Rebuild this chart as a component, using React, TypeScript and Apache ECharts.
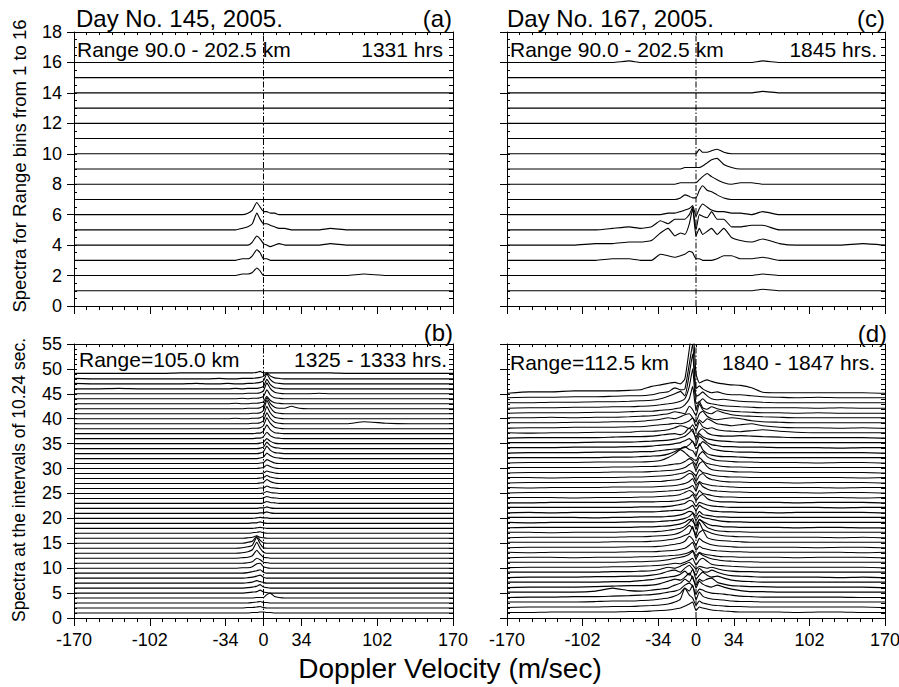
import React, { useEffect, useRef } from "react";
import * as echarts from "echarts";

// Doppler velocity sample positions (m/sec) shared by every spectrum
const VELOCITY = [-170, -150, -130, -110, -90, -75, -60, -50, -40, -32, -25, -19, -14, -10, -6, -3, 0, 3, 6, 10, 14, 19, 25, 32, 40, 50, 60, 75, 90, 110, 130, 150, 170];
const X_MAJOR = [-170, -102, -34, 0, 34, 102, 170];
// spectral amplitudes are stored in tenths of one y-unit above each baseline
const AMP_UNIT = 0.1;
const FLAT = [0, 0, 0, 0, 0, 0, 0, 0, 0, 0, 0];

// (a) Day 145, range bins 1..16
const SPEC_A = [
  [...FLAT, ...FLAT, ...FLAT],
  [...FLAT, 1, 1, 2, 5, 3, 0, 0, 0, 0, 0, 0, 0, 0, 0, 0, 0, 0, 1, 0, 0, 0, 0],
  [...FLAT, 1, 1, 3, 7, 5, 1, 1, 0, 0, 0, 0, ...FLAT],
  [...FLAT, 0, 0, 2, 6, 4, 1, 0, -1, 0, 1, 0, 0, 0, 0, 0, 1, 0, 0, 0, 0, 0, 0],
  [...FLAT, 1, 2, 4, 11, 7, 4, 4, 3, 2, 1, 1, 0, 0, 0, 0, 1, 0, 0, 0, 0, 0, 0],
  [...FLAT, 0, 1, 3, 8, 5, 2, 2, 1, 1, 0, 0, ...FLAT],
  [...FLAT, ...FLAT, ...FLAT],
  [...FLAT, ...FLAT, ...FLAT],
  [...FLAT, ...FLAT, ...FLAT],
  [...FLAT, ...FLAT, ...FLAT],
  [...FLAT, ...FLAT, ...FLAT],
  [...FLAT, ...FLAT, ...FLAT],
  [...FLAT, ...FLAT, ...FLAT],
  [...FLAT, ...FLAT, ...FLAT],
  [...FLAT, ...FLAT, ...FLAT],
  [...FLAT, ...FLAT, ...FLAT],
];

// (c) Day 167, range bins 1..16
const SPEC_C = [
  [...FLAT, ...FLAT, 0, 0, 0, 0, 1, 0, 0, 0, 0, 0, 0],
  [...FLAT, ...FLAT, 0, 0, 0, 0, 1, 0, 0, 0, 0, 0, 0],
  [0, 0, 0, 0, 0, 1, 1, 0, 0, 4, 3, 2, 3, 4, 6, 5, 1, 1, 0, 0, 0, 1, 3, 3, 1, 1, 2, 0, 0, 0, 0, 0, 0],
  [0, 0, 0, 0, 1, 1, 2, 2, 3, 8, 11, 6, 8, 7, 14, 24, 6, 11, 7, 9, 11, 7, 11, 5, 3, 2, 4, 1, 0, 0, 0, 1, 0],
  [0, 0, 0, 0, 0, 1, 2, 1, 2, 6, 4, 7, 7, 7, 10, 15, 0, 10, 9, 8, 12, 7, 7, 2, 2, 3, 3, 0, 0, 0, 0, 0, 0],
  [0, 0, 0, 0, 0, 0, 0, 0, 0, 0, 1, 1, 2, 3, 4, 6, -1, 4, 7, 5, 3, 2, 2, 1, 1, 0, 2, 0, 0, 0, 0, 0, 0],
  [...FLAT, 0, 1, 3, 2, 1, 1, 6, 9, 6, 5, 3, 1, 0, 0, 0, 0, 0, 0, 0, 0, 0, 0],
  [...FLAT, 0, 1, 1, 1, 1, 1, 3, 5, 7, 5, 3, 1, 0, 1, 1, 0, 0, 0, 0, 0, 0, 0],
  [...FLAT, 0, 0, 1, 1, 1, 1, 1, 2, 4, 6, 7, 3, 1, 0, 0, 0, 0, 0, 0, 0, 0, 0],
  [...FLAT, 0, 0, 0, 0, 0, 0, 3, 1, 1, 2, 3, 1, 0, 0, 0, 0, 0, 0, 0, 0, 0, 0],
  [...FLAT, ...FLAT, ...FLAT],
  [...FLAT, ...FLAT, ...FLAT],
  [...FLAT, ...FLAT, ...FLAT],
  [...FLAT, ...FLAT, 0, 0, 0, 0, 1, 0, 0, 0, 0, 0, 0],
  [...FLAT, ...FLAT, ...FLAT],
  [0, 0, 0, 0, 0, 0, 1, 0, 0, 0, 0, 0, 0, 0, 0, 0, 0, 0, 0, 0, 0, 0, 0, 0, 0, 0, 1, 0, 0, 0, 0, 0, 0],
];

// (b) Range 105.0 km, spectra 1..49 at 10.24 s intervals
const SPEC_B = [
  [...FLAT, 0, 0, 1, 1, 2, 2, 1, 1, 0, 0, 0, ...FLAT],
  [...FLAT, 0, 1, 1, 2, 3, 1, 0, 0, 0, 0, 0, ...FLAT],
  [...FLAT, 0, 0, 1, 2, 3, 1, 1, 0, 0, 0, 0, ...FLAT],
  [...FLAT, 0, 0, 0, 1, 1, 1, 7, 10, 3, 1, 0, ...FLAT],
  [...FLAT, 0, 1, 2, 3, 6, 2, 1, 0, 0, 0, 0, ...FLAT],
  [...FLAT, 0, 1, 2, 4, 7, 2, 1, 0, 0, 0, 0, ...FLAT],
  [...FLAT, 0, 1, 2, 5, 3, 1, 0, 0, 0, 0, 0, ...FLAT],
  [...FLAT, 0, 1, 2, 4, 6, 2, 0, 0, 0, 0, 0, ...FLAT],
  [...FLAT, 0, 1, 3, 5, 7, 2, 0, 0, 0, 0, 0, ...FLAT],
  [...FLAT, 1, 1, 3, 9, 10, 3, 1, 0, 0, 0, 0, ...FLAT],
  [...FLAT, 0, 1, 3, 10, 7, 2, 1, 0, 0, 0, 0, ...FLAT],
  [...FLAT, 1, 2, 5, 16, 8, 2, 1, 0, 0, 0, 0, ...FLAT],
  [...FLAT, 1, 3, 7, 22, 10, 2, 0, 0, 0, 0, 0, ...FLAT],
  [...FLAT, 1, 3, 6, 22, 9, 1, 0, 0, 0, 0, 0, ...FLAT],
  [...FLAT, 0, 2, 4, 14, 6, 1, 0, 0, 0, 0, 0, ...FLAT],
  [...FLAT, 0, 1, 2, 5, 2, 1, 0, 0, 0, 0, 0, ...FLAT],
  [...FLAT, 0, 0, 1, 2, 3, 1, 0, 0, 0, 0, 0, ...FLAT],
  [...FLAT, 0, 0, 0, 1, 2, 1, 0, 0, 0, 0, 0, ...FLAT],
  [...FLAT, 0, 0, 1, 1, 3, 1, 0, 0, 0, 0, 0, ...FLAT],
  [...FLAT, 0, 0, 0, 1, 2, 1, 1, 0, 0, 0, 0, ...FLAT],
  [...FLAT, 0, 0, 0, 0, 1, 1, 3, 1, 0, 0, 0, ...FLAT],
  [...FLAT, 0, 0, 0, 0, 1, 1, 3, 1, 0, 0, 0, ...FLAT],
  [...FLAT, 0, 0, 0, 0, 0, 1, 4, 2, 1, 0, 0, ...FLAT],
  [...FLAT, 0, 0, 0, 0, 0, 1, 4, 2, 1, 0, 0, ...FLAT],
  [...FLAT, 0, 0, 0, 0, 0, 1, 4, 2, 1, 0, 0, ...FLAT],
  [...FLAT, 0, 0, 0, 0, 1, 1, 5, 2, 1, 0, 0, ...FLAT],
  [...FLAT, 0, 0, 0, 0, 1, 2, 8, 4, 1, 0, 0, ...FLAT],
  [...FLAT, 0, 0, 0, 0, 1, 2, 6, 3, 1, 0, 0, ...FLAT],
  [...FLAT, 0, 0, 0, 0, 0, 1, 5, 3, 1, 0, 0, ...FLAT],
  [...FLAT, 0, 0, 0, 0, 1, 2, 7, 4, 1, 0, 0, ...FLAT],
  [...FLAT, 0, 0, 0, 0, 1, 2, 8, 5, 1, 0, 0, ...FLAT],
  [...FLAT, 0, 0, 0, 0, 1, 3, 11, 6, 2, 1, 0, ...FLAT],
  [...FLAT, 0, 0, 0, 0, 1, 4, 15, 7, 2, 1, 0, ...FLAT],
  [...FLAT, 0, 0, 0, 0, 1, 3, 13, 6, 2, 1, 0, ...FLAT],
  [...FLAT, 0, 0, 0, 0, 1, 3, 10, 5, 1, 0, 0, ...FLAT],
  [...FLAT, 0, 0, 0, 1, 1, 4, 13, 6, 2, 1, 0, ...FLAT],
  [...FLAT, 0, 0, 0, 1, 1, 5, 18, 8, 2, 1, 0, ...FLAT],
  [...FLAT, 0, 0, 1, 1, 2, 6, 22, 11, 3, 1, 0, ...FLAT],
  [...FLAT, 0, 0, 1, 1, 2, 6, 22, 11, 3, 1, 0, 0, 0, 0, 0, 0, 0, 4, 1, 0, 0, 0],
  [0, 0, 0, 0, 0, 0, 0, 0, 0, 0, 1, 0, 0, 1, 1, 2, 6, 25, 12, 3, 1, 0, ...FLAT],
  [...FLAT, 0, 0, 1, 1, 2, 7, 27, 13, 3, 1, 0, ...FLAT],
  [...FLAT, 0, 1, 1, 1, 2, 6, 22, 11, 3, 1, 1, 5, 1, 0, 0, 0, 0, 0, 0, 0, 0, 0],
  [0, 0, 0, 0, 0, 0, 0, 0, 0, 0, 1, 0, 0, 1, 1, 2, 4, 15, 7, 2, 1, 0, ...FLAT],
  [...FLAT, 1, 0, 1, 1, 2, 5, 18, 8, 2, 1, 0, ...FLAT],
  [...FLAT, 0, 1, 1, 1, 2, 6, 22, 11, 3, 1, 0, 0, 0, 0, 1, 0, 0, 0, 0, 0, 0, 0],
  [0, 0, 1, 0, 0, 0, 0, 0, 0, 0, 1, 0, 1, 1, 1, 2, 5, 19, 9, 2, 1, 0, ...FLAT],
  [1, 0, 0, 0, 0, 0, 1, 0, 0, 1, 0, 0, 1, 1, 2, 3, 6, 20, 9, 2, 1, 0, ...FLAT],
  [1, 0, 0, 0, 0, 0, 0, 0, 1, 0, 0, 1, 1, 1, 2, 3, 5, 12, 6, 2, 1, 0, ...FLAT],
  [1, 1, 1, 1, 1, 2, 2, 2, 2, 2, 2, 2, 2, 2, 3, 5, 2, 2, 2, 2, 2, 2, 2, 2, 2, 2, 2, 1, 1, 1, 1, 1, 1],
];

// (d) Range 112.5 km, spectra 1..45
const SPEC_D = [
  [1, 1, 2, 2, 2, 2, 3, 3, 4, 5, 6, 8, 10, 14, 18, 22, 5, 12, 10, 8, 6, 5, 4, 3, 2, 2, 2, 2, 1, 2, 2, 1, 1],
  [1, 2, 2, 2, 2, 3, 3, 4, 5, 6, 8, 12, 18, 40, 26, 20, 6, 14, 10, 8, 6, 5, 4, 3, 3, 2, 2, 2, 2, 2, 2, 2, 1],
  [2, 2, 2, 2, 3, 4, 4, 5, 6, 8, 10, 14, 20, 30, 24, 36, 6, 22, 14, 10, 8, 7, 6, 4, 3, 3, 2, 2, 2, 2, 2, 2, 2],
  [1, 2, 2, 3, 3, 4, 5, 6, 7, 9, 12, 14, 18, 26, 30, 24, 8, 18, 16, 12, 10, 9, 8, 6, 4, 3, 2, 2, 2, 2, 2, 1, 1],
  [2, 2, 2, 2, 4, 10, 5, 4, 6, 8, 10, 16, 20, 28, 22, 34, 10, 24, 18, 14, 12, 16, 12, 8, 5, 3, 3, 2, 2, 2, 2, 2, 2],
  [1, 2, 2, 2, 3, 4, 5, 5, 6, 9, 14, 18, 16, 22, 30, 20, 6, 18, 14, 18, 20, 12, 8, 5, 4, 3, 3, 2, 2, 2, 2, 2, 1],
  [2, 2, 2, 2, 2, 3, 3, 5, 7, 10, 12, 14, 18, 24, 16, 28, 8, 16, 22, 16, 12, 14, 10, 6, 4, 3, 2, 2, 2, 2, 2, 2, 2],
  [1, 2, 2, 2, 3, 3, 4, 4, 6, 9, 14, 16, 12, 20, 26, 18, 6, 20, 14, 12, 16, 12, 8, 5, 4, 3, 2, 2, 2, 2, 1, 2, 1],
  [2, 2, 2, 2, 2, 3, 3, 4, 5, 8, 12, 10, 14, 18, 22, 16, 8, 14, 12, 10, 12, 9, 6, 4, 3, 3, 2, 2, 2, 2, 2, 2, 2],
  [1, 2, 2, 2, 2, 3, 3, 4, 5, 6, 8, 10, 9, 12, 16, 20, 6, 16, 20, 14, 8, 6, 5, 4, 3, 2, 2, 2, 2, 2, 2, 2, 1],
  [2, 2, 2, 2, 2, 2, 3, 3, 4, 5, 7, 10, 12, 14, 18, 24, 8, 20, 16, 12, 9, 7, 5, 4, 3, 3, 2, 2, 2, 2, 2, 2, 2],
  [1, 2, 2, 1, 2, 2, 2, 3, 3, 4, 5, 6, 7, 9, 12, 16, 5, 12, 9, 7, 6, 4, 3, 3, 2, 2, 2, 2, 1, 2, 2, 2, 1],
  [2, 1, 2, 2, 2, 2, 3, 3, 3, 4, 5, 6, 8, 10, 16, 22, 6, 14, 10, 8, 6, 5, 4, 3, 3, 2, 2, 2, 2, 2, 2, 1, 2],
  [1, 2, 2, 2, 2, 2, 3, 3, 3, 4, 6, 8, 10, 14, 24, 18, 6, 20, 14, 10, 7, 5, 4, 3, 2, 2, 2, 2, 2, 1, 2, 2, 1],
  [2, 2, 2, 2, 2, 3, 3, 3, 4, 5, 7, 9, 12, 16, 20, 34, 10, 22, 26, 12, 8, 6, 5, 4, 3, 2, 2, 2, 2, 2, 2, 2, 2],
  [1, 2, 2, 2, 2, 2, 3, 3, 4, 5, 6, 8, 12, 18, 26, 20, 6, 32, 18, 14, 10, 7, 5, 4, 3, 3, 2, 2, 2, 2, 1, 2, 1],
  [2, 2, 1, 2, 2, 2, 3, 3, 3, 4, 6, 8, 10, 14, 22, 30, 8, 28, 22, 12, 8, 5, 4, 3, 3, 2, 2, 2, 2, 2, 2, 2, 2],
  [1, 2, 2, 2, 2, 2, 2, 3, 3, 4, 5, 7, 9, 12, 18, 14, 5, 18, 14, 9, 6, 5, 3, 3, 2, 2, 2, 2, 1, 2, 2, 1, 1],
  [2, 1, 2, 2, 2, 2, 3, 3, 3, 4, 5, 6, 8, 10, 14, 20, 6, 16, 12, 10, 8, 6, 4, 3, 3, 2, 2, 2, 2, 2, 2, 2, 2],
  [2, 2, 2, 2, 1, 2, 2, 3, 3, 3, 4, 5, 7, 10, 14, 12, 4, 14, 8, 6, 5, 3, 3, 2, 2, 2, 2, 2, 2, 2, 2, 2, 2],
  [1, 2, 1, 2, 2, 2, 3, 3, 3, 4, 5, 6, 6, 8, 12, 16, 5, 16, 12, 8, 5, 4, 3, 3, 2, 2, 2, 1, 2, 2, 2, 2, 1],
  [2, 2, 2, 2, 2, 2, 2, 3, 3, 3, 4, 6, 8, 10, 16, 14, 4, 12, 10, 7, 5, 4, 3, 2, 2, 2, 2, 2, 2, 2, 1, 2, 2],
  [1, 1, 2, 2, 2, 2, 3, 3, 3, 4, 4, 5, 7, 9, 12, 18, 6, 14, 18, 10, 6, 4, 3, 3, 2, 2, 2, 2, 1, 2, 2, 2, 1],
  [2, 2, 2, 1, 2, 2, 2, 3, 3, 4, 5, 6, 8, 12, 16, 12, 4, 16, 10, 8, 6, 4, 3, 3, 2, 2, 2, 2, 2, 2, 2, 1, 2],
  [1, 2, 2, 2, 2, 2, 3, 3, 3, 4, 5, 6, 7, 9, 12, 16, 5, 22, 14, 9, 6, 5, 4, 3, 3, 2, 2, 2, 2, 1, 2, 2, 1],
  [2, 1, 2, 2, 2, 3, 3, 3, 3, 4, 5, 6, 8, 10, 14, 20, 6, 14, 10, 8, 6, 5, 4, 3, 2, 2, 2, 2, 2, 2, 1, 2, 2],
  [1, 2, 2, 2, 2, 2, 3, 3, 4, 4, 6, 7, 9, 14, 20, 18, 4, 16, 20, 12, 8, 6, 4, 3, 3, 2, 2, 2, 1, 2, 2, 2, 1],
  [2, 2, 1, 2, 2, 2, 3, 3, 4, 5, 6, 8, 10, 12, 16, 12, 5, 18, 12, 10, 7, 5, 4, 3, 3, 2, 2, 2, 2, 2, 2, 1, 2],
  [1, 2, 2, 2, 2, 3, 3, 3, 4, 5, 6, 7, 9, 12, 18, 22, 6, 20, 24, 14, 8, 6, 5, 4, 3, 3, 2, 2, 2, 2, 2, 2, 1],
  [2, 2, 2, 2, 2, 3, 3, 4, 4, 5, 7, 9, 10, 14, 20, 16, 6, 22, 16, 10, 8, 6, 4, 3, 3, 2, 2, 2, 2, 2, 2, 2, 2],
  [1, 2, 2, 2, 3, 3, 3, 3, 4, 6, 12, 20, 28, 22, 14, 10, 5, 18, 24, 14, 9, 6, 5, 4, 3, 3, 2, 2, 2, 1, 2, 2, 1],
  [2, 2, 2, 2, 2, 3, 3, 4, 5, 6, 9, 14, 20, 24, 18, 16, 6, 30, 18, 10, 7, 5, 4, 4, 3, 2, 2, 2, 2, 2, 2, 2, 2],
  [1, 2, 2, 2, 3, 3, 3, 4, 4, 6, 8, 9, 10, 12, 18, 25, 10, 16, 24, 18, 10, 7, 5, 4, 3, 3, 2, 2, 2, 2, 2, 2, 1],
  [2, 2, 2, 3, 3, 3, 4, 4, 5, 7, 8, 10, 12, 16, 20, 14, 6, 25, 20, 12, 8, 6, 4, 4, 3, 3, 3, 2, 2, 2, 1, 2, 2],
  [2, 2, 2, 2, 3, 3, 3, 4, 5, 6, 7, 9, 12, 15, 22, 30, 8, 20, 14, 10, 8, 6, 5, 4, 3, 3, 2, 2, 2, 2, 2, 2, 2],
  [1, 2, 2, 2, 2, 3, 4, 4, 5, 7, 9, 10, 8, 12, 22, 14, 4, 15, 20, 12, 8, 6, 5, 5, 6, 5, 4, 3, 2, 2, 2, 2, 1],
  [2, 1, 2, 2, 3, 3, 3, 5, 5, 6, 8, 12, 16, 14, 10, 18, 6, 24, 14, 10, 12, 8, 6, 5, 4, 6, 8, 5, 3, 2, 2, 2, 2],
  [1, 2, 2, 3, 3, 3, 4, 4, 6, 8, 9, 11, 10, 12, 16, 22, 5, 18, 12, 20, 16, 10, 8, 6, 8, 10, 6, 3, 2, 2, 1, 2, 1],
  [2, 2, 2, 3, 3, 4, 4, 5, 7, 9, 12, 10, 14, 18, 20, 12, 4, 20, 25, 15, 10, 8, 10, 12, 10, 6, 4, 3, 2, 2, 2, 2, 2],
  [2, 2, 3, 2, 3, 3, 4, 5, 6, 8, 10, 14, 12, 10, 25, 18, 6, 30, 18, 12, 10, 16, 12, 8, 6, 5, 4, 3, 2, 2, 2, 2, 2],
  [1, 2, 2, 2, 3, 3, 4, 5, 5, 7, 8, 10, 12, 18, 30, 55, 8, 25, 12, 9, 14, 10, 7, 5, 4, 3, 2, 2, 1, 2, 1, 1, 1],
  [1, 2, 2, 3, 3, 4, 4, 5, 6, 8, 10, 12, 15, 20, 45, 80, 10, 14, 20, 12, 10, 8, 6, 5, 4, 3, 2, 2, 2, 1, 2, 1, 1],
  [2, 2, 3, 3, 4, 4, 5, 6, 7, 10, 15, 20, 25, 16, 60, 100, 15, 18, 24, 16, 10, 8, 9, 7, 5, 4, 3, 2, 2, 2, 2, 2, 2],
  [2, 3, 3, 4, 4, 5, 6, 6, 8, 12, 14, 22, 18, 20, 70, 110, 20, 26, 20, 15, 12, 14, 10, 8, 8, 6, 4, 3, 2, 3, 2, 2, 2],
  [1, 4, 4, 6, 6, 6, 7, 8, 15, 18, 21, 23, 20, 30, 90, 140, 40, 22, 25, 28, 25, 22, 20, 18, 17, 12, 3, 2, 2, 2, 2, 2, 1],
];

const FONT = "'Liberation Sans', Arial, Helvetica, sans-serif";
const BLACK = "#000";

const PANELS = [
  { rows: SPEC_A, grid: { left: 74, top: 32, width: 379, height: 274 }, ymax: 18, major: 2, minor: 0.5, xLabels: false, yLabels: true },
  { rows: SPEC_C, grid: { left: 507, top: 32, width: 378, height: 274 }, ymax: 18, major: 2, minor: 0.5, xLabels: false, yLabels: false },
  { rows: SPEC_B, grid: { left: 74, top: 344, width: 379, height: 274 }, ymax: 55, major: 5, minor: 1, xLabels: true, yLabels: true },
  { rows: SPEC_D, grid: { left: 507, top: 344, width: 378, height: 274 }, ymax: 55, major: 5, minor: 1, xLabels: true, yLabels: false },
];

const TEXTS = [
  { text: "Day No. 145, 2005.", x: 76, y: 18, align: "left", size: 24 },
  { text: "(a)", x: 452, y: 18, align: "right", size: 24 },
  { text: "Day No. 167, 2005.", x: 507, y: 18, align: "left", size: 24 },
  { text: "(c)", x: 885, y: 18, align: "right", size: 24 },
  { text: "(b)", x: 453, y: 332, align: "right", size: 24 },
  { text: "(d)", x: 887, y: 333, align: "right", size: 24 },
  { text: "Range 90.0 - 202.5 km", x: 77, y: 49, align: "left", size: 21 },
  { text: "1331 hrs", x: 443, y: 49, align: "right", size: 21 },
  { text: "Range 90.0 - 202.5 km", x: 510, y: 49, align: "left", size: 21 },
  { text: "1845 hrs.", x: 877, y: 49, align: "right", size: 21 },
  { text: "Range=105.0 km", x: 79, y: 359, align: "left", size: 21 },
  { text: "1325 - 1333 hrs.", x: 447, y: 359, align: "right", size: 21 },
  { text: "Range=112.5 km", x: 510, y: 362, align: "left", size: 21 },
  { text: "1840 - 1847 hrs.", x: 875, y: 362, align: "right", size: 21 },
];

function buildOption() {
  const grid: any[] = [];
  const xAxis: any[] = [];
  const yAxis: any[] = [];
  const series: any[] = [];
  const line = { color: BLACK, width: 1 };

  PANELS.forEach((p, g) => {
    grid.push({ ...p.grid, containLabel: false, outerBoundsMode: "none" });
    const xBase = { type: "value", gridIndex: g, min: -170, max: 170, splitLine: { show: false } };
    xAxis.push(
      { ...xBase, position: "bottom", interval: 340 / 30, axisLine: { show: true, onZero: false, lineStyle: line }, axisTick: { show: true, inside: false, length: 4, lineStyle: line }, axisLabel: { show: false } },
      { ...xBase, position: "bottom", axisLine: { show: false, onZero: false }, axisTick: { show: true, inside: false, length: 8, customValues: X_MAJOR, lineStyle: line }, axisLabel: { show: p.xLabels, customValues: X_MAJOR, fontSize: 18, fontFamily: FONT, color: BLACK, margin: 13 } },
      { ...xBase, position: "top", interval: 340 / 30, axisLine: { show: true, onZero: false, lineStyle: line }, axisTick: { show: true, inside: true, length: 3, lineStyle: line }, axisLabel: { show: false } }
    );
    const yBase = { type: "value", gridIndex: g, min: 0, max: p.ymax, splitLine: { show: false } };
    yAxis.push(
      { ...yBase, position: "left", interval: p.major, axisLine: { show: true, onZero: false, lineStyle: line }, axisTick: { show: true, inside: false, length: 7, lineStyle: line }, axisLabel: { show: p.yLabels, fontSize: 18, fontFamily: FONT, color: BLACK, margin: 12 } },
      { ...yBase, position: "left", interval: p.minor, axisLine: { show: false, onZero: false }, axisTick: { show: true, inside: true, length: 3, lineStyle: line }, axisLabel: { show: false } },
      { ...yBase, position: "right", interval: p.minor, axisLine: { show: true, onZero: false, lineStyle: line }, axisTick: { show: true, inside: true, length: 4, lineStyle: line }, axisLabel: { show: false } }
    );
    series.push({
      type: "line", xAxisIndex: g * 3, yAxisIndex: g * 3, data: [[0, 0], [0, p.ymax]],
      symbol: "none", silent: true, z: 4,
      lineStyle: { color: BLACK, width: 1, type: [6, 2, 1.5, 2] },
    });
    p.rows.forEach((row, i) => {
      series.push({
        type: "line", xAxisIndex: g * 3, yAxisIndex: g * 3,
        data: row.map((a, j) => [VELOCITY[j], i + 1 + a * AMP_UNIT]),
        symbol: "none", silent: true, smooth: 0.15, z: 3, clip: true,
        lineStyle: { color: BLACK, width: 1.1 },
      });
    });
  });

  const graphic: any[] = TEXTS.map((t) => ({
    type: "text", x: t.x, y: t.y, silent: true,
    style: { text: t.text, fontSize: t.size, fontFamily: FONT, fill: BLACK, align: t.align, verticalAlign: "middle" },
  }));
  graphic.push(
    { type: "text", x: 19, y: 166, rotation: Math.PI / 2, silent: true, style: { text: "Spectra for Range bins from 1 to 16", fontSize: 18.5, fontFamily: FONT, fill: BLACK, align: "center", verticalAlign: "middle" } },
    { type: "text", x: 19, y: 480, rotation: Math.PI / 2, silent: true, style: { text: "Spectra at the intervals of 10.24 sec.", fontSize: 17.5, fontFamily: FONT, fill: BLACK, align: "center", verticalAlign: "middle" } },
    { type: "text", x: 450, y: 668, silent: true, style: { text: "Doppler Velocity (m/sec)", fontSize: 28, fontFamily: FONT, fill: BLACK, align: "center", verticalAlign: "middle" } }
  );

  return { animation: false, backgroundColor: "#fff", grid, xAxis, yAxis, series, graphic };
}

export default function App() {
  const ref = useRef<HTMLDivElement>(null);
  useEffect(() => {
    if (!ref.current) return;
    const chart = echarts.init(ref.current, undefined, { renderer: "svg" });
    chart.setOption(buildOption() as any);
    return () => chart.dispose();
  }, []);
  return <div ref={ref} style={{ position: "absolute", left: 0, top: 0, width: 899, height: 687 }} />;
}
